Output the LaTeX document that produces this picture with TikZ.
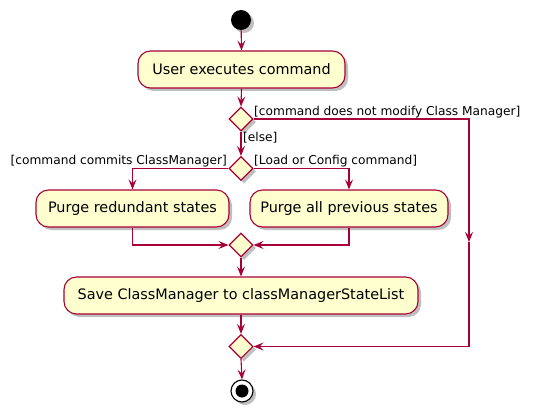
\documentclass[tikz,border=0pt]{standalone}
\usepackage{fontspec}
\setmainfont{DejaVu Sans}
\usetikzlibrary{arrows.meta,shapes.geometric,shadows}
\definecolor{pline}{HTML}{A80036}
\definecolor{pfill}{HTML}{FEFECE}
\tikzset{
  act/.style={draw=pline, fill=pfill, line width=1.1pt, rounded corners=12.5pt,
    minimum height=37pt, inner sep=0pt, font=\fontsize{14.4}{17}\selectfont,
    drop shadow={shadow xshift=3pt, shadow yshift=-3pt, fill=black, opacity=0.25}},
  dec/.style={draw=pline, fill=pfill, line width=1.1pt, diamond, inner sep=0pt,
    minimum width=24pt, minimum height=24pt,
    drop shadow={shadow xshift=3pt, shadow yshift=-3pt, fill=black, opacity=0.25}},
  flow/.style={draw=pline, line width=1.1pt},
  arr/.style={flow, -{Stealth[length=10pt,width=8pt,inset=4pt]}},
  lbl/.style={font=\fontsize{12.2}{14}\selectfont, inner sep=0pt},
}
\begin{document}
\begin{tikzpicture}[x=1pt,y=-1pt]
\useasboundingbox (0,0) rectangle (535,417);
\node[circle, fill=black, minimum size=20pt, inner sep=0pt,
  drop shadow={shadow xshift=3pt, shadow yshift=-3pt, fill=black, opacity=0.25}] (start) at (241,20) {};
\node[act, minimum width=207pt] (a1) at (241.5,69.5) {User executes command};
\node[dec] (d1) at (241,119) {};
\node[dec] (d2) at (241,168.5) {};
\node[act, minimum width=193pt] (a2) at (132.5,208.5) {Purge redundant states};
\node[act, minimum width=198pt] (a3) at (349,208.5) {Purge all previous states};
\node[dec] (d3) at (241,245) {};
\node[act, minimum width=354pt] (a4) at (241,295.5) {Save ClassManager to classManagerStateList};
\node[dec] (d4) at (241,346.5) {};
\node[circle, draw=black, fill=white, line width=1.1pt, minimum size=22pt, inner sep=0pt,
  drop shadow={shadow xshift=3pt, shadow yshift=-3pt, fill=black, opacity=0.25}] (end) at (242,391) {};
\node[circle, fill=black, minimum size=13pt, inner sep=0pt] (endin) at (242,391) {};

\coordinate (c1) at (469,119);
\coordinate (cm) at (469,242);
\coordinate (c2) at (469,346.5);
\coordinate (l2) at (132.5,168.5);
\coordinate (r2) at (349,168.5);
\coordinate (l3) at (132.5,245);
\coordinate (r3) at (349,245);

\draw[arr] (start) -- (a1.north);
\draw[arr] (a1.south) -- (d1.north);
\draw[arr] (d1.east) -- (c1) -- (cm);
\draw[arr] (cm) -- (c2) -- (d4.east);
\draw[arr] (d1.south) -- (d2.north);
\draw[arr] (d2.west) -- (l2) -- (a2.north);
\draw[arr] (d2.east) -- (r2) -- (a3.north);
\draw[arr] (a2.south) -- (l3) -- (d3.west);
\draw[arr] (a3.south) -- (r3) -- (d3.east);
\draw[arr] (d3.south) -- (a4.north);
\draw[arr] (a4.south) -- (d4.north);
\draw[arr] (d4.south) -- (end.north);

\node[lbl, anchor=west] (t1) at (254,112) {[command does not modify Class Manager]};
\node[lbl, anchor=west] (t2) at (243,138) {[else]};
\node[lbl, anchor=east] (t3) at (227,161) {[command commits ClassManager]};
\node[lbl, anchor=west] (t4) at (254,161) {[Load or Config command]};
\end{tikzpicture}
\end{document}
